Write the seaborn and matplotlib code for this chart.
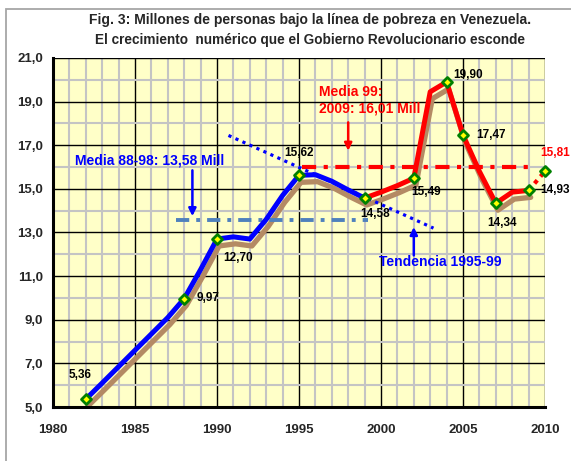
import matplotlib
matplotlib.use("Agg")
import matplotlib.pyplot as plt
import matplotlib.patheffects as pe
from matplotlib.ticker import MultipleLocator, FixedLocator
from matplotlib.patches import Rectangle
import pandas as pd
import seaborn as sns

# Millions of people below the poverty line, one value per year
years = list(range(1982, 2011))
poor_millions = [5.36, 6.10, 6.85, 7.60, 8.35, 9.10, 9.97, 11.30, 12.70, 12.80,
                 12.70, 13.60, 14.70, 15.62, 15.65, 15.35, 14.95, 14.58, 14.85, 15.15,
                 15.49, 19.45, 19.90, 17.47, 15.80, 14.34, 14.85, 14.93, 15.81]

# Years whose values are marked and labelled
labeled_years = [1982, 1988, 1990, 1995, 1999, 2002, 2004, 2005, 2007, 2009, 2010]

# Period averages and the 1995-99 trend line
mean_88_98 = 13.58
mean_99_09 = 16.01
mean_88_98_span = [1987.5, 1999.2]
mean_99_09_span = [1995.2, 2009.0]
trend_years = [1990.7, 2003.2]
trend_values = [17.45, 13.20]

y_ticks = [5, 7, 9, 11, 13, 15, 17, 19, 21]
x_ticks = [1980, 1985, 1990, 1995, 2000, 2005, 2010]

title_1 = "Fig. 3: Millones de personas bajo la línea de pobreza en Venezuela."
title_2 = "El crecimiento  numérico que el Gobierno Revolucionario esconde"

BLUE = "#0000FF"
RED = "#FF0000"
SHADOW = "#B48A64"
MEAN_BLUE = "#4F81BD"

sns.set_style("white")
plt.rcParams["font.family"] = ["Liberation Sans", "DejaVu Sans"]
plt.rcParams["font.weight"] = "bold"

df = pd.DataFrame({"year": years, "poor": poor_millions})
value_of = dict(zip(years, poor_millions))

fig = plt.figure(figsize=(5.71, 4.61), dpi=100)
ax = fig.add_axes([53 / 571, 1 - 407 / 461, (545 - 53) / 571, (407 - 58) / 461])
ax.set_facecolor("#FFFFC8")

# outer chart frame
fig.patches.append(Rectangle((5.5 / 571, -0.2), 1.2, 1.2 - 9 / 461,
                             transform=fig.transFigure, fill=False,
                             edgecolor="#A6A6A6", lw=1.3, zorder=0))

# grid: fine grey every unit/year, black at the labelled ticks
ax.set_xlim(1980, 2010)
ax.set_ylim(5, 21)
ax.xaxis.set_major_locator(FixedLocator(x_ticks))
ax.xaxis.set_minor_locator(MultipleLocator(1))
ax.yaxis.set_major_locator(FixedLocator(y_ticks))
ax.yaxis.set_minor_locator(MultipleLocator(1))
ax.set_axisbelow(True)
ax.grid(which="minor", color="#C4C4C4", lw=1.5)
ax.grid(which="major", color="black", lw=1.0)
ax.set_yticklabels([f"{v:.1f}".replace(".", ",") for v in y_ticks])
ax.set_xticklabels([str(v) for v in x_ticks])
ax.tick_params(axis="y", which="major", direction="out", length=4, width=1.5,
               labelsize=9.5, pad=3)
ax.tick_params(axis="x", which="major", direction="inout", length=5, width=1.5,
               labelsize=9.5, pad=10)
ax.tick_params(which="minor", length=0)
for lab in ax.get_xticklabels() + ax.get_yticklabels():
    lab.set_fontweight("bold")
for side in ("top", "right"):
    ax.spines[side].set_visible(False)
for side in ("left", "bottom"):
    ax.spines[side].set_linewidth(2.2)
    ax.spines[side].set_color("black")
    ax.spines[side].set_zorder(5)

# shadow under the full 1982-2009 series
shadow_df = df[df["year"] <= 2009]
sns.lineplot(data=shadow_df, x="year", y="poor", ax=ax, color=SHADOW, lw=3.8,
             solid_capstyle="round", solid_joinstyle="round",
             path_effects=[pe.SimpleLineShadow(offset=(1.5, -5), shadow_color=SHADOW,
                                               alpha=1.0, rho=1.0)], zorder=3)

# period averages
sns.lineplot(x=mean_88_98_span, y=[mean_88_98, mean_88_98], ax=ax, color=MEAN_BLUE,
             lw=2.8, linestyle=(0, (3.4, 1.8, 1.0, 1.8)), zorder=3)
sns.lineplot(x=mean_99_09_span, y=[mean_99_09, mean_99_09], ax=ax, color=RED,
             lw=3.0, linestyle=(0, (3.4, 1.8, 1.0, 1.8)), zorder=3)

# series: blue up to 1999, red 1999-2009, dotted red to 2010
sns.lineplot(data=df[df["year"] <= 1999], x="year", y="poor", ax=ax, color=BLUE,
             lw=3.6, solid_capstyle="round", solid_joinstyle="round", zorder=4)
sns.lineplot(data=df[(df["year"] >= 1999) & (df["year"] <= 2009)], x="year", y="poor",
             ax=ax, color=RED, lw=3.6, solid_capstyle="round",
             solid_joinstyle="round", zorder=4)
sns.lineplot(data=df[df["year"] >= 2009], x="year", y="poor", ax=ax, color=RED,
             lw=3.0, linestyle=(0, (1.0, 1.2)), zorder=4)

# 1995-99 trend
sns.lineplot(x=trend_years, y=trend_values, ax=ax, color=BLUE, lw=2.3,
             linestyle=(0, (1.0, 1.4)), zorder=4)

# markers
mark_df = pd.DataFrame({"year": labeled_years,
                        "poor": [value_of[y] for y in labeled_years]})
sns.scatterplot(data=mark_df, x="year", y="poor", ax=ax, marker="D", s=26,
                color="#FFFF00", edgecolor="#008000", linewidth=2.0, zorder=6,
                clip_on=False)

# value labels
label_pos = {
    1982: (1981.65, 6.47, "center"),
    1988: (1989.47, 10.01, "center"),
    1990: (1991.30, 11.85, "center"),
    1995: (1995.02, 16.66, "center"),
    1999: (1999.63, 13.85, "center"),
    2002: (2002.74, 14.85, "center"),
    2004: (2005.30, 20.22, "center"),
    2005: (2006.70, 17.49, "center"),
    2007: (2007.36, 13.43, "center"),
    2009: (2009.68, 14.95, "left"),
    2010: (2009.72, 16.64, "left"),
}
for yr in labeled_years:
    x, y, ha = label_pos[yr]
    ax.text(x, y, f"{value_of[yr]:.2f}".replace(".", ","), ha=ha, va="center",
            fontsize=8.5, fontweight="bold",
            color=RED if yr == 2010 else "black", clip_on=False, zorder=7)

# annotations
ax.text(1981.35, 16.3, f"Media 88-98: {mean_88_98:.2f} Mill".replace(".", ","),
        color=BLUE, fontsize=10, fontweight="bold", ha="left", va="center")
ax.text(1996.24, 19.46, "Media 99:", color=RED, fontsize=10, fontweight="bold",
        ha="left", va="center")
ax.text(1996.24, 18.69, f"2009: {mean_99_09:.2f} Mill".replace(".", ","), color=RED,
        fontsize=10, fontweight="bold", ha="left", va="center")
ax.text(1999.9, 11.65, "Tendencia 1995-99", color=BLUE, fontsize=10,
        fontweight="bold", ha="left", va="center")

arrow = dict(arrowstyle="-|>", lw=1.8, mutation_scale=11, shrinkA=0, shrinkB=0)
ax.annotate("", xy=(1988.5, 13.75), xytext=(1988.5, 15.85),
            arrowprops=dict(arrow, color=BLUE), zorder=5)
ax.annotate("", xy=(1998.0, 16.75), xytext=(1998.0, 18.05),
            arrowprops=dict(arrow, color=RED), zorder=5)
ax.annotate("", xy=(2002.0, 13.25), xytext=(2002.0, 11.95),
            arrowprops=dict(arrow, color=BLUE), zorder=5)

ax.set_xlabel("")
ax.set_ylabel("")

fig.text(310 / 571, 1 - 20 / 461, title_1, ha="center", va="center",
         fontsize=10, fontweight="bold")
fig.text(310 / 571, 1 - 40 / 461, title_2, ha="center", va="center",
         fontsize=9.8, fontweight="bold")

fig.savefig("out.png", dpi=100, facecolor="white")
